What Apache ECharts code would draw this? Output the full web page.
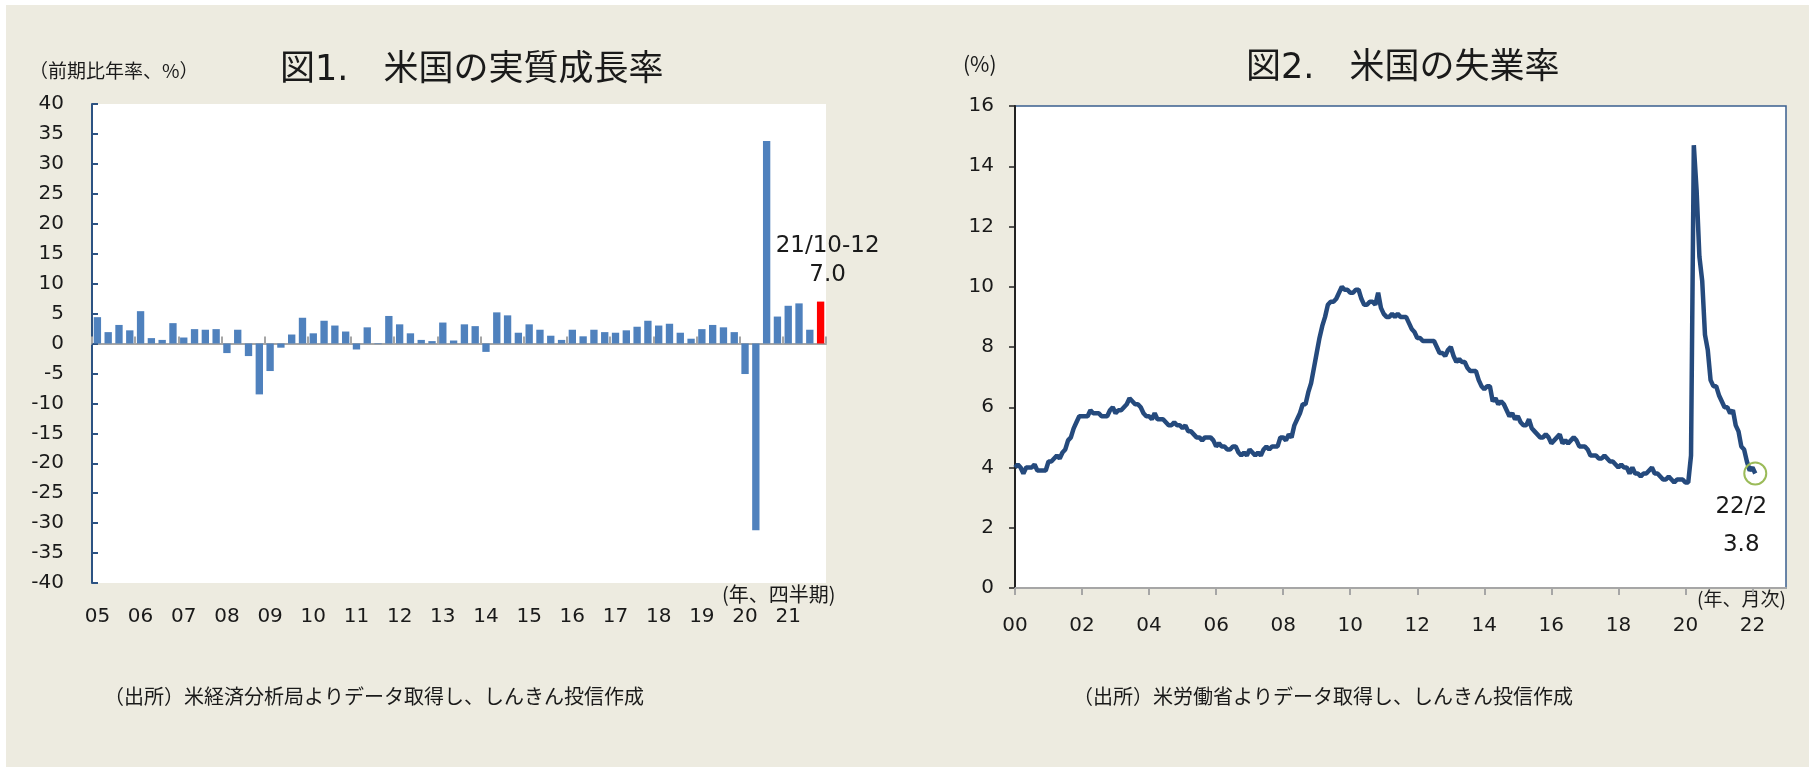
<!DOCTYPE html>
<html>
<head>
<meta charset="utf-8">
<script src="https://cdn.jsdelivr.net/npm/echarts/dist/echarts.min.js"></script>
<style>
  html, body { margin: 0; padding: 0; background: #fff; }
  #bg { position: absolute; left: 6px; top: 5px; right: 0; bottom: 0; background: #edebe0; }
  #main { position: absolute; left: 0; top: 0; width: 1809px; height: 767px; }
</style>
</head>
<body>
<div id="bg"></div>
<div id="main"></div>
<script>
// 図1 実質成長率（前期比年率、%）
const gdpYears = ['05', '06', '07', '08', '09', '10', '11', '12', '13', '14', '15', '16', '17', '18', '19', '20', '21'];
const gdpQuarters = ['1-3', '4-6', '7-9', '10-12'];
const gdpCategories = gdpYears.flatMap(y => gdpQuarters.map(q => y + '/' + q));
const gdpValues = [
  4.4, 1.9, 3.1, 2.2,
  5.4, 0.9, 0.6, 3.4,
  1.0, 2.4, 2.3, 2.4,
  -1.6, 2.3, -2.1, -8.5,
  -4.6, -0.7, 1.5, 4.3,
  1.7, 3.8, 3.0, 2.0,
  -1.0, 2.7, -0.1, 4.6,
  3.2, 1.7, 0.6, 0.4,
  3.5, 0.5, 3.2, 2.9,
  -1.4, 5.2, 4.7, 1.8,
  3.2, 2.3, 1.3, 0.6,
  2.3, 1.2, 2.3, 1.9,
  1.8, 2.2, 2.8, 3.8,
  3.0, 3.3, 1.8, 0.8,
  2.4, 3.1, 2.7, 1.9,
  -5.1, -31.2, 33.8, 4.5,
  6.3, 6.7, 2.3, 7.0
];

// 図2 失業率（%、月次 2000/1〜2022/2）
const unempStartYear = 2000;
const unempRates = [
  4.0, 4.1, 4.0, 3.8, 4.0, 4.0, 4.0, 4.1, 3.9, 3.9, 3.9, 3.9,
  4.2, 4.2, 4.3, 4.4, 4.3, 4.5, 4.6, 4.9, 5.0, 5.3, 5.5, 5.7,
  5.7, 5.7, 5.7, 5.9, 5.8, 5.8, 5.8, 5.7, 5.7, 5.7, 5.9, 6.0,
  5.8, 5.9, 5.9, 6.0, 6.1, 6.3, 6.2, 6.1, 6.1, 6.0, 5.8, 5.7,
  5.7, 5.6, 5.8, 5.6, 5.6, 5.6, 5.5, 5.4, 5.4, 5.5, 5.4, 5.4,
  5.3, 5.4, 5.2, 5.2, 5.1, 5.0, 5.0, 4.9, 5.0, 5.0, 5.0, 4.9,
  4.7, 4.8, 4.7, 4.7, 4.6, 4.6, 4.7, 4.7, 4.5, 4.4, 4.5, 4.4,
  4.6, 4.5, 4.4, 4.5, 4.4, 4.6, 4.7, 4.6, 4.7, 4.7, 4.7, 5.0,
  5.0, 4.9, 5.1, 5.0, 5.4, 5.6, 5.8, 6.1, 6.1, 6.5, 6.8, 7.3,
  7.8, 8.3, 8.7, 9.0, 9.4, 9.5, 9.5, 9.6, 9.8, 10.0, 9.9, 9.9,
  9.8, 9.8, 9.9, 9.9, 9.6, 9.4, 9.4, 9.5, 9.5, 9.4, 9.8, 9.3,
  9.1, 9.0, 9.0, 9.1, 9.0, 9.1, 9.0, 9.0, 9.0, 8.8, 8.6, 8.5,
  8.3, 8.3, 8.2, 8.2, 8.2, 8.2, 8.2, 8.0, 7.8, 7.8, 7.7, 7.9,
  8.0, 7.7, 7.5, 7.6, 7.5, 7.5, 7.3, 7.2, 7.2, 7.2, 6.9, 6.7,
  6.6, 6.7, 6.7, 6.2, 6.3, 6.1, 6.2, 6.1, 5.9, 5.7, 5.8, 5.6,
  5.7, 5.5, 5.4, 5.4, 5.6, 5.3, 5.2, 5.1, 5.0, 5.0, 5.1, 5.0,
  4.8, 4.9, 5.0, 5.1, 4.8, 4.9, 4.8, 4.9, 5.0, 4.9, 4.7, 4.7,
  4.7, 4.6, 4.4, 4.4, 4.4, 4.3, 4.3, 4.4, 4.3, 4.2, 4.2, 4.1,
  4.0, 4.1, 4.0, 4.0, 3.8, 4.0, 3.8, 3.8, 3.7, 3.8, 3.8, 3.9,
  4.0, 3.8, 3.8, 3.7, 3.6, 3.6, 3.7, 3.6, 3.5, 3.6, 3.6, 3.6,
  3.5, 3.5, 4.4, 14.7, 13.2, 11.0, 10.2, 8.4, 7.9, 6.9, 6.7, 6.7,
  6.4, 6.2, 6.0, 6.0, 5.8, 5.9, 5.4, 5.2, 4.7, 4.6, 4.2, 3.9,
  4.0, 3.8
];
const unempTickLabels = ['00', '02', '04', '06', '08', '10', '12', '14', '16', '18', '20', '22'];

const jpFont = '"Noto Sans CJK JP", sans-serif';
const numFont = '"DejaVu Sans", "Noto Sans CJK JP", sans-serif';
const textColor = '#1a1a1a';

const lastIdx = unempRates.length - 1;
const lastVal = unempRates[lastIdx];
const lastName = String(Math.floor(lastIdx / 12) + unempStartYear).slice(2) + '/' + (lastIdx % 12 + 1);
const unempTicks = unempTickLabels.map((_, i) => i * 24);

let chart = echarts.init(document.getElementById('main'));

let option = {
  animation: false,
  graphic: [
    { type: 'text', left: 280, top: 53, style: { text: '図1.　米国の実質成長率', fontSize: 35, fontFamily: numFont, fill: textColor } },
    { type: 'text', left: 1246, top: 51, style: { text: '図2.　米国の失業率', fontSize: 35, fontFamily: numFont, fill: textColor } },
    { type: 'text', left: 29, top: 61, style: { text: '（前期比年率、%）', fontSize: 19, fontFamily: jpFont, fill: textColor } },
    { type: 'text', left: 963, top: 54, style: { text: '(%)', fontSize: 21, fontFamily: jpFont, fill: textColor } },
    { type: 'text', left: 722, top: 584, style: { text: '(年、四半期)', fontSize: 20, fontFamily: jpFont, fill: textColor } },
    { type: 'text', left: 1697, top: 589, style: { text: '(年、月次)', fontSize: 19, fontFamily: jpFont, fill: textColor } },
    { type: 'text', left: 104, top: 686, style: { text: '（出所）米経済分析局よりデータ取得し、しんきん投信作成', fontSize: 20, fontFamily: jpFont, fill: textColor } },
    { type: 'text', left: 1073, top: 686, style: { text: '（出所）米労働省よりデータ取得し、しんきん投信作成', fontSize: 20, fontFamily: jpFont, fill: textColor } }
  ],
  grid: [
    { left: 92, top: 104, width: 734, height: 479, show: true, backgroundColor: '#fff', borderWidth: 0 },
    { left: 1015, top: 106, width: 771, height: 482, show: true, backgroundColor: '#fff', borderColor: '#3a5f8f', borderWidth: 1.5 }
  ],
  xAxis: [
    {
      // 0ライン
      type: 'category',
      gridIndex: 0,
      data: gdpCategories,
      axisLine: { onZero: true, lineStyle: { color: '#a6a6a6', width: 2 } },
      axisTick: { show: true, interval: 3, inside: true, length: 7, lineStyle: { color: '#a6a6a6', width: 2 } },
      axisLabel: { show: false },
      splitLine: { show: false }
    },
    {
      // 年ラベル
      type: 'category',
      gridIndex: 0,
      position: 'bottom',
      data: gdpCategories,
      axisLine: { show: false, onZero: false },
      axisTick: { show: false },
      axisLabel: {
        interval: 3,
        margin: 24,
        fontSize: 20,
        fontFamily: numFont,
        color: textColor,
        formatter: v => v.slice(0, 2)
      },
      splitLine: { show: false }
    },
    {
      type: 'value',
      gridIndex: 1,
      min: 0,
      max: 276,
      axisLine: { onZero: false, lineStyle: { color: '#a6a6a6', width: 2 } },
      axisTick: { show: true, customValues: unempTicks, length: 7, lineStyle: { color: '#a6a6a6', width: 2 } },
      axisLabel: {
        customValues: unempTicks,
        margin: 28,
        fontSize: 20,
        fontFamily: numFont,
        color: textColor,
        formatter: v => unempTickLabels[Math.round(v / 24)]
      },
      splitLine: { show: false }
    }
  ],
  yAxis: [
    {
      type: 'value',
      gridIndex: 0,
      min: -40,
      max: 40,
      interval: 5,
      axisLine: { show: true, lineStyle: { color: '#2c5282', width: 2 } },
      axisTick: { show: true, inside: true, length: 6, lineStyle: { color: '#2c5282', width: 2 } },
      axisLabel: { margin: 28, fontSize: 20, fontFamily: numFont, color: textColor },
      splitLine: { show: false }
    },
    {
      type: 'value',
      gridIndex: 1,
      min: 0,
      max: 16,
      interval: 2,
      axisLine: { show: true, lineStyle: { color: '#222', width: 2 } },
      axisTick: { show: true, length: 6, lineStyle: { color: '#222', width: 1.5 } },
      axisLabel: { margin: 21, fontSize: 20, fontFamily: numFont, color: textColor },
      splitLine: { show: false }
    }
  ],
  series: [
    {
      type: 'bar',
      xAxisIndex: 0,
      yAxisIndex: 0,
      barCategoryGap: '32%',
      itemStyle: { color: '#4f81bd' },
      data: gdpValues.map((v, i) => i === gdpValues.length - 1 ? {
        value: v,
        itemStyle: { color: '#ff0000' },
        label: {
          show: true,
          position: 'top',
          distance: 12,
          offset: [7, 0],
          fontSize: 23,
          lineHeight: 29,
          fontFamily: numFont,
          color: textColor,
          formatter: p => p.name + '\n' + p.value.toFixed(1)
        }
      } : v)
    },
    {
      type: 'line',
      xAxisIndex: 2,
      yAxisIndex: 1,
      symbol: 'none',
      lineStyle: { color: '#254a7d', width: 4.5 },
      itemStyle: { color: '#254a7d' },
      data: unempRates.map((v, i) => [i, v]),
      markPoint: {
        symbol: 'circle',
        symbolSize: 22,
        itemStyle: { color: 'rgba(0,0,0,0)', borderColor: '#9bbb59', borderWidth: 2 },
        label: {
          show: true,
          position: 'bottom',
          distance: 3,
          offset: [-14, 0],
          fontSize: 23,
          lineHeight: 38,
          fontFamily: numFont,
          color: textColor,
          formatter: lastName + '\n' + lastVal.toFixed(1)
        },
        data: [{ coord: [lastIdx, lastVal] }]
      }
    }
  ]
};
chart.setOption(option);
window.addEventListener('resize', () => chart.resize(), false);
</script>
</body>
</html>
